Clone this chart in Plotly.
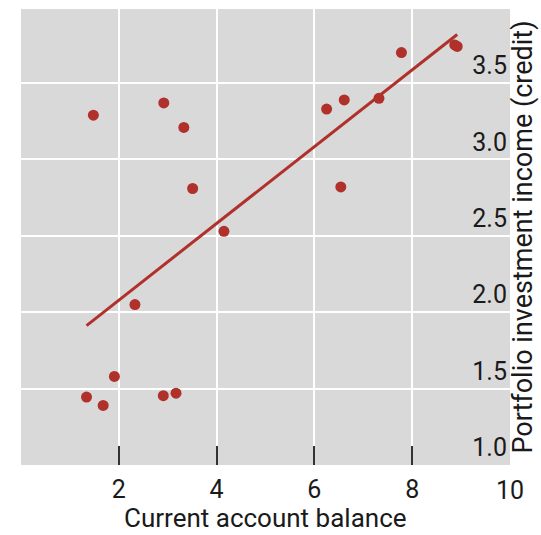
import numpy as np
import plotly.graph_objects as go

# Data
current_account = [1.48, 2.92, 3.33, 3.51, 4.15, 7.78, 8.87, 8.92, 6.25, 6.61,
                    7.32, 6.54, 2.33, 1.91, 1.34, 1.68, 2.91, 3.17]
portfolio_income = [3.29, 3.37, 3.21, 2.81, 2.53, 3.70, 3.75, 3.74, 3.33, 3.39,
                    3.40, 2.82, 2.05, 1.58, 1.445, 1.39, 1.454, 1.47]

x_ticks = [0, 2, 4, 6, 8]
x_ticktext = ["", "2", "4", "6", "8"]
y_ticks = [1.0, 1.5, 2.0, 2.5, 3.0, 3.5]

RED = "#b0302c"
FONT = "Roboto"
TXT = "#1a1a1a"
TICK_SIZE = 25
TITLE_SIZE = 27
XTITLE_SIZE = 26

xs = np.array(current_account)
ys = np.array(portfolio_income)
slope, intercept = np.polyfit(xs, ys, 1)
fit_x = np.array([xs.min(), xs.max()])
fit_y = slope * fit_x + intercept

fig = go.Figure()
fig.add_trace(go.Scatter(x=current_account, y=portfolio_income, mode="markers",
                         marker=dict(color=RED, size=11), hoverinfo="skip"))
fig.add_trace(go.Scatter(x=fit_x, y=fit_y, mode="lines",
                         line=dict(color=RED, width=3), hoverinfo="skip"))

fig.update_layout(
    width=541, height=535,
    margin=dict(l=21, r=31, t=9, b=70),
    paper_bgcolor="white", plot_bgcolor="#d9d9d9",
    showlegend=False,
    font=dict(family=FONT, size=TICK_SIZE, color=TXT),
    xaxis=dict(range=[0, 10], tickvals=x_ticks, ticktext=x_ticktext,
               showgrid=True, gridcolor="white", gridwidth=2,
               zeroline=False, showline=False,
               ticks="inside", ticklen=19, tickwidth=2, tickcolor="#333333",
               ticklabelstandoff=7,
               tickfont=dict(size=TICK_SIZE, color=TXT),
               automargin=False),
    yaxis=dict(range=[1, 3.985], tickvals=y_ticks, tickformat=".1f",
               side="right", ticklabelposition="inside top",
               showgrid=True, gridcolor="white", gridwidth=2,
               zeroline=False, showline=False, ticks="",
               tickfont=dict(size=TICK_SIZE, color=TXT),
               title=dict(text="Portfolio investment income (credit)", standoff=4,
                          font=dict(size=TITLE_SIZE, color=TXT)),
               automargin=False),
    annotations=[
        dict(x=10, y=0, xref="x", yref="paper", text="10",
             showarrow=False, yanchor="middle", yshift=-25,
             font=dict(size=TICK_SIZE, color=TXT)),
        dict(x=0.5, y=0, xref="paper", yref="paper", text="Current account balance",
             showarrow=False, yanchor="bottom", yshift=-69, borderpad=0,
             font=dict(size=XTITLE_SIZE, color=TXT)),
    ],
)

fig.write_html("out.html")
